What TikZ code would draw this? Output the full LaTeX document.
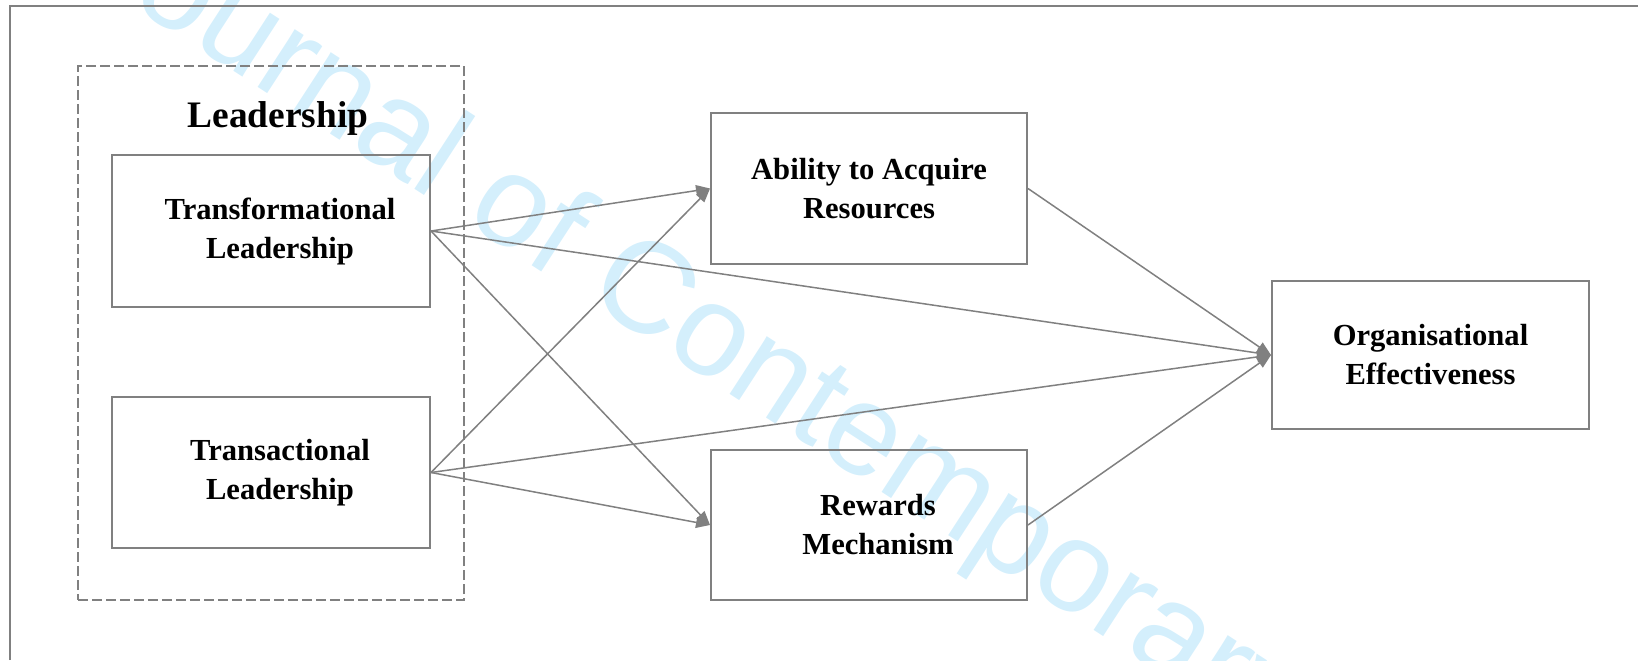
\documentclass[tikz,border=0pt]{standalone}
\usepackage{fontspec}
\setmainfont{Liberation Serif}
\newfontfamily\wmfont{Liberation Sans}
\usetikzlibrary{arrows.meta}
\definecolor{linegray}{RGB}{128,128,128}
\definecolor{wmblue}{RGB}{212,239,252}
\newcommand{\sh}{\hspace*{9pt}}
\begin{document}
\begin{tikzpicture}[x=0.5pt,y=-0.5pt,
  box/.style={draw=linegray, line width=1pt, inner sep=0pt, align=center,
    font=\fontsize{15.3}{19.5}\selectfont\bfseries},
  group/.style={draw=linegray, line width=1pt, dash pattern=on 5pt off 2pt, inner sep=0pt},
  link/.style={draw=linegray, line width=0.75pt, -{Triangle[length=7pt,width=5.5pt]}},
  frame/.style={draw=linegray, line width=1pt}]
\useasboundingbox (0,0) rectangle (1638,660);
% watermark
\begin{scope}
  \clip (0,0) rectangle (1638,660);
  \node[anchor=base west, rotate=-33, text=wmblue, inner sep=0pt,
    font=\wmfont\fontsize{65}{65}\selectfont] (wm) at (74,-32) {Journal of Contemporary Issues};
\end{scope}
% frame
\coordinate (fbl) at (10,660);
\coordinate (ftl) at (10,6);
\coordinate (ftr) at (1638,6);
\draw[frame] (fbl) -- (ftl) -- (ftr);
% group
\node[group, minimum width=193pt, minimum height=267pt] (lead) at (271,333) {};
\node[anchor=base, inner sep=0pt, font=\fontsize{18.7}{22}\selectfont\bfseries] (leadtitle) at (278,127) {Leadership};
% boxes
\node[box, minimum width=159pt, minimum height=76pt] (tf) at (271,231) {\sh Transformational\\\sh Leadership};
\node[box, minimum width=159pt, minimum height=75.5pt] (ta) at (271,472.5) {\sh Transactional\\\sh Leadership};
\node[box, minimum width=158pt, minimum height=75.5pt] (ab) at (869,188.5) {Ability to Acquire\\Resources};
\node[box, minimum width=158pt, minimum height=75pt] (rw) at (869,525) {\sh Rewards\\\sh Mechanism};
\node[box, minimum width=158.5pt, minimum height=74pt] (oe) at (1430.5,355) {Organisational\\Effectiveness};
% links
\draw[link] (tf.east) -- (ab.west);
\draw[link] (tf.east) -- (rw.west);
\draw[link] (tf.east) -- (oe.west);
\draw[link] (ta.east) -- (ab.west);
\draw[link] (ta.east) -- (rw.west);
\draw[link] (ta.east) -- (oe.west);
\draw[link] (ab.east) -- (oe.west);
\draw[link] (rw.east) -- (oe.west);
\end{tikzpicture}
\end{document}
